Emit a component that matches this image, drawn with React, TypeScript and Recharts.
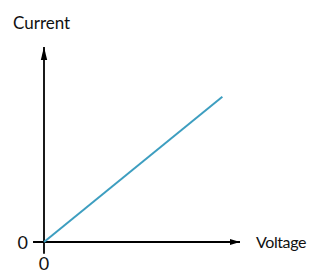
import React from "react";
import { LineChart, Line, XAxis, YAxis, ReferenceLine } from "recharts";

const voltage = [0, 9.1];
const current = [0, 7.45];
const xTicks = [0];
const yTicks = [0];
const xLabel = "Voltage";
const yLabel = "Current";

const data = voltage.map((v, i) => ({ voltage: v, current: current[i] }));

const FONT = "Lato, 'Open Sans', sans-serif";

// axis line drawn with an arrow head at the far end, plus its title
const ArrowAxis = (props: any) => {
  const { x1, y1, x2, y2, title, dir } = props;
  const head =
    dir === "up"
      ? `${x2},${y2} ${x2 - 3.2},${y2 + 13} ${x2 + 3.2},${y2 + 13}`
      : `${x2},${y2} ${x2 - 10},${y2 - 3} ${x2 - 10},${y2 + 3}`;
  return (
    <g>
      <line x1={x1} y1={y1} x2={x2} y2={y2} stroke="#000" strokeWidth={1.8} />
      <polygon points={head} fill="#000" />
      {dir === "up" ? (
        <text x={x2 - 31} y={y2 - 18} fontSize={17} fontFamily={FONT} fill="#111">
          {title}
        </text>
      ) : (
        <text x={x2 + 16} y={y2 + 6} fontSize={16} letterSpacing={-0.4} fontFamily={FONT} fill="#111">
          {title}
        </text>
      )}
    </g>
  );
};

const XTick = (props: any) => {
  const { x, y, payload } = props;
  return (
    <text x={x} y={y + 20} textAnchor="middle" fontSize={18} fontFamily={FONT} fill="#111">
      {payload.value}
    </text>
  );
};

const YTick = (props: any) => {
  const { x, y, payload } = props;
  return (
    <text x={x - 8} y={y + 6.5} textAnchor="end" fontSize={18} fontFamily={FONT} fill="#111">
      {payload.value}
    </text>
  );
};

export default function App() {
  return (
    <div style={{ position: "fixed", left: 0, top: 0, width: 309, height: 273, background: "#fff" }}>
      <LineChart
        width={309}
        height={273}
        data={data}
        margin={{ top: 47, right: 69, bottom: 30, left: 43 }}
      >
        <XAxis
          type="number"
          dataKey="voltage"
          domain={[0, 10]}
          ticks={xTicks}
          interval={0}
          height={1}
          axisLine={false}
          tickLine={false}
          tick={<XTick />}
        />
        <YAxis
          type="number"
          domain={[0, 10]}
          ticks={yTicks}
          interval={0}
          width={1}
          axisLine={false}
          tickLine={false}
          tick={<YTick />}
        />
        <ReferenceLine
          segment={[
            { x: -0.56, y: 0 },
            { x: 10, y: 0 },
          ]}
          ifOverflow="visible"
          shape={(p: any) => <ArrowAxis {...p} title={xLabel} dir="right" />}
        />
        <ReferenceLine
          segment={[
            { x: 0, y: -0.6 },
            { x: 0, y: 10 },
          ]}
          ifOverflow="visible"
          shape={(p: any) => <ArrowAxis {...p} title={yLabel} dir="up" />}
        />
        <Line
          type="linear"
          dataKey="current"
          stroke="#3d9ec0"
          strokeWidth={2}
          dot={false}
          isAnimationActive={false}
        />
      </LineChart>
    </div>
  );
}
